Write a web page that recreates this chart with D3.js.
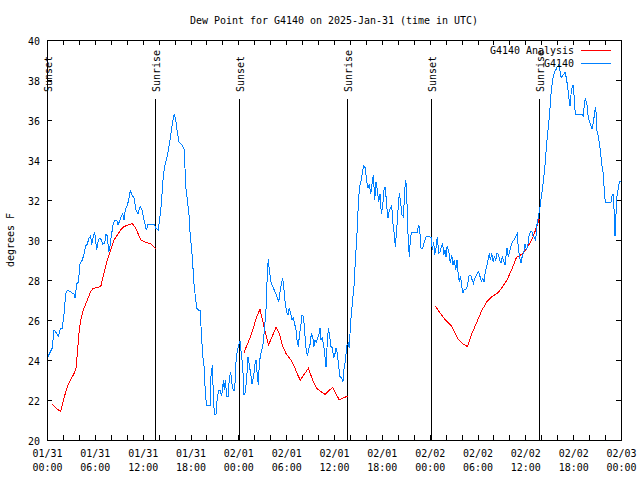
<!DOCTYPE html>
<html><head><meta charset="utf-8">
<script src="https://cdn.jsdelivr.net/npm/d3@7"></script>
<style>
html,body{margin:0;padding:0;background:#fff;}
svg{display:block;}
text{font-family:"DejaVu Sans Mono","Liberation Mono",monospace;font-size:11px;fill:#000;}
</style></head>
<body>
<svg id="chart" width="640" height="480"></svg>
<script>
// ---------- DATA ----------
const titleText = "Dew Point for G4140 on 2025-Jan-31 (time in UTC)";
const yLabelText = "degrees F";
const startUTC = Date.UTC(2025, 0, 31, 0, 0);
const endUTC = Date.UTC(2025, 1, 3, 0, 0);
const yTickValues = [20, 22, 24, 26, 28, 30, 32, 34, 36, 38, 40];
const seriesNames = ["G4140 Analysis", "G4140"];
const seriesColors = ["#ff0000", "#0080ff"];

// hours after 01/31 00:00 UTC
const sunEventHours = [0.05, 13.55, 24.09, 37.63, 48.17, 61.72];
const sunEventNames = ["Sunset", "Sunrise", "Sunset", "Sunrise", "Sunset", "Sunrise"];

// Observed station series (G4140)
const blueHours = [0.13,0.66,0.88,1.09,1.42,1.72,1.92,2.13,2.35,2.55,2.97,3.39,3.51,3.73,3.93,4.14,4.43,4.64,4.85,5.06,5.27,5.48,5.61,5.81,5.98,6.23,6.44,6.65,6.81,6.99,7.24,7.40,7.56,7.74,7.90,8.07,8.28,8.49,8.74,8.91,9.16,9.32,9.50,9.66,9.82,10.07,10.25,10.45,10.66,10.91,11.16,11.42,11.67,11.92,12.17,12.46,12.67,13.01,13.42,13.67,13.96,14.17,14.34,14.59,14.80,15.02,15.22,15.43,15.64,15.84,15.97,16.18,16.34,16.56,16.81,17.02,17.22,17.40,17.60,17.81,17.94,18.15,18.28,18.44,18.60,18.78,18.98,19.23,19.36,19.53,19.73,19.86,20.03,20.45,20.57,20.74,20.86,20.99,21.20,21.36,21.54,21.74,21.86,21.99,22.12,22.24,22.37,22.54,22.74,22.87,23.04,23.21,23.37,23.55,23.67,23.80,24.00,24.21,24.37,24.55,24.71,24.88,25.05,25.21,25.38,25.55,25.72,25.93,26.05,26.22,26.38,26.51,26.63,26.81,27.06,27.22,27.47,27.56,27.69,27.76,27.89,28.10,28.31,28.51,28.73,28.89,29.06,29.23,29.44,29.57,29.73,29.89,30.07,30.23,30.39,30.57,30.73,30.90,31.07,31.23,31.36,31.52,31.65,31.82,31.99,32.15,32.28,32.40,32.53,32.70,32.87,33.03,33.15,33.33,33.49,33.62,33.78,33.96,34.12,34.25,34.37,34.53,34.71,34.87,35.00,35.12,35.29,35.46,35.62,35.79,35.96,36.13,36.25,36.42,36.59,36.75,36.97,37.13,37.26,37.38,37.51,37.63,37.79,37.92,38.05,38.22,38.38,38.55,38.67,38.85,38.97,39.10,39.26,39.43,39.60,39.76,39.93,40.10,40.27,40.43,40.61,40.77,40.93,41.11,41.27,41.43,41.61,41.77,41.94,42.11,42.27,42.44,42.61,42.78,42.94,43.11,43.24,43.37,43.53,43.69,43.86,44.03,44.19,44.37,44.53,44.70,44.82,44.95,45.07,45.20,45.32,45.45,45.57,45.70,46.00,46.41,46.63,46.75,46.92,47.13,47.33,47.54,47.76,47.96,48.17,48.33,48.51,48.63,48.80,48.96,49.14,49.30,49.46,49.64,49.76,49.92,50.05,50.18,50.34,50.47,50.59,50.77,50.93,51.09,51.27,51.43,51.59,51.72,51.84,51.97,52.14,52.31,52.47,52.65,52.81,52.97,53.15,53.31,53.48,53.65,53.81,53.98,54.15,54.32,54.48,54.66,54.82,54.98,55.16,55.32,55.49,55.61,55.79,55.95,56.11,56.29,56.45,56.61,56.79,56.95,57.11,57.29,57.45,57.58,57.70,57.86,58.04,58.21,58.42,58.62,58.83,59.00,59.12,59.30,59.46,59.62,59.80,59.96,60.12,60.30,60.46,60.63,60.80,60.96,61.13,61.30,61.43,61.55,61.68,61.80,61.93,62.09,62.26,62.43,62.59,62.76,62.93,63.10,63.26,63.44,63.64,63.85,64.01,64.14,64.31,64.48,64.64,64.82,64.98,65.14,65.32,65.48,65.61,65.73,65.90,66.02,66.15,66.27,66.70,67.11,67.28,67.41,67.53,67.71,67.87,68.03,68.21,68.37,68.54,68.71,68.84,68.96,69.12,69.29,69.46,69.62,69.79,69.91,70.04,70.34,70.75,70.88,71.00,71.13,71.25,71.34,71.46,71.63,71.79,71.92];
const blueValues = [24.17,24.6,25.5,25.4,25.2,25.6,25.6,26.3,27.3,27.5,27.4,27.3,27.1,27.8,27.9,28.8,29.0,29.3,29.7,29.8,30.1,30.2,29.75,30.2,30.4,29.5,30.0,30.1,30.0,29.8,29.85,30.3,30.2,29.4,29.7,30.2,30.75,31.0,31.0,30.75,31.0,31.2,31.3,31.0,31.5,31.75,32.0,32.47,32.25,32.1,31.5,31.3,31.67,31.5,31.0,30.5,30.8,30.8,30.8,30.58,30.5,31.2,31.8,33.2,33.75,34.1,34.5,35.0,35.6,36.1,36.3,35.9,35.4,34.9,34.8,34.7,34.5,32.7,32.0,31.25,30.4,29.5,28.8,27.8,27.2,26.6,26.5,26.5,25.3,24.25,23.6,22.3,21.75,21.75,23.2,23.75,22.3,21.3,21.3,22.1,22.5,22.5,22.25,22.4,23.0,22.5,23.0,22.2,22.2,23.1,23.4,22.8,22.5,22.5,23.75,24.3,24.67,24.97,24.3,23.67,22.25,22.4,23.1,24.17,23.75,23.3,22.8,23.2,23.75,24.0,23.2,22.75,23.85,24.3,24.67,25.3,26.5,27.6,28.67,29.03,28.5,27.9,27.67,27.5,27.3,27.1,26.9,27.4,27.9,28.1,27.5,26.8,26.4,26.25,26.6,26.3,26.0,26.1,25.8,25.5,25.0,24.67,25.17,25.67,26.25,26.2,25.67,25.0,24.4,24.25,24.6,24.83,25.3,25.17,24.67,25.0,24.9,25.1,25.3,25.6,25.0,25.1,24.75,24.17,23.67,24.6,25.6,25.17,24.67,24.6,24.1,24.33,24.6,24.33,23.67,23.17,23.1,22.92,23.58,23.83,24.33,24.75,24.83,24.6,25.67,26.5,27.17,27.83,29.0,30.0,31.08,32.17,32.75,33.0,33.5,33.72,33.6,32.9,32.6,32.8,32.3,32.8,33.25,32.0,32.9,32.5,31.9,32.3,31.3,31.7,32.5,32.67,31.67,31.08,31.5,31.6,31.75,30.9,30.42,29.67,30.5,31.5,32.33,31.83,31.25,31.17,32.0,33.0,32.75,31.33,29.83,29.17,30.0,30.37,30.37,30.37,30.75,30.5,29.58,29.58,29.9,30.17,30.2,30.17,30.13,29.5,29.9,29.25,29.6,30.17,29.33,29.4,29.67,29.83,29.25,29.5,29.17,29.67,29.5,29.25,28.83,29.25,28.75,29.0,28.5,29.0,28.25,27.92,28.17,27.92,27.33,27.5,27.53,27.58,27.92,28.25,28.25,28.03,27.83,28.08,28.2,28.33,28.42,28.17,27.92,28.08,27.92,28.42,28.67,29.0,29.33,29.0,29.33,28.92,29.17,29.0,29.33,29.3,29.0,28.83,29.17,28.92,28.75,29.2,29.58,29.17,29.42,29.73,29.95,30.03,30.2,30.33,29.53,29.12,28.87,29.2,29.37,29.78,29.53,29.7,30.2,30.4,30.45,30.2,30.12,29.95,30.7,30.95,31.28,31.5,31.95,32.37,32.95,33.53,34.37,35.2,35.78,36.62,37.53,38.03,38.37,38.53,38.67,38.73,38.53,38.12,38.2,38.28,38.37,38.12,37.62,37.03,36.7,37.28,37.7,37.73,37.03,36.28,36.28,36.28,36.2,36.87,37.03,36.87,36.2,35.95,35.73,35.57,35.87,36.45,36.62,35.53,35.23,34.87,34.28,33.7,33.28,32.37,31.9,31.9,31.9,32.2,32.28,31.53,30.2,31.0,32.1,32.53,32.87,32.95];

// Analysis series (G4140 Analysis); null marks a gap
const redHours = [0.66,1.09,1.72,2.13,2.55,2.97,3.39,3.64,3.80,4.01,4.23,4.43,4.64,5.06,5.48,5.77,6.31,6.74,7.15,7.56,7.99,8.40,8.82,9.25,9.66,10.16,10.70,11.13,11.79,12.38,13.01,13.74,
  null,
  24.71,25.68,26.31,26.72,27.22,27.79,28.73,29.14,29.57,29.98,30.61,31.02,31.36,31.77,32.78,33.33,33.83,34.37,34.87,35.81,36.67,37.69,
  null,
  48.69,49.34,49.96,50.80,51.22,51.64,52.27,52.74,53.31,53.94,54.57,55.19,55.57,55.82,56.60,57.16,57.70,58.27,58.89,59.50,60.12,60.80,61.21,61.75];
const redValues = [21.78,21.6,21.42,22.1,22.67,23.0,23.33,23.6,24.3,25.33,26.0,26.33,26.58,27.0,27.42,27.58,27.62,27.67,28.33,29.0,29.5,30.0,30.25,30.5,30.67,30.75,30.83,30.58,30.0,29.88,29.8,29.53,
  null,
  24.37,25.33,26.17,26.53,25.67,24.75,25.63,25.33,24.67,24.33,24.0,23.67,23.33,23.0,23.58,23.0,22.58,22.42,22.28,22.63,22.0,22.2,
  null,
  26.7,26.33,26.0,25.67,25.33,25.0,24.78,24.67,25.33,25.92,26.5,26.92,27.08,27.17,27.37,27.67,28.0,28.5,29.13,29.27,29.55,30.0,30.42,31.07];

// ---------- CHART ----------
const svg = d3.select("#chart");
const L = 47, R = 621, T = 40, B = 440;
const H = 3600 * 1000;
const toDate = h => new Date(startUTC + h * H);

const x = d3.scaleUtc().domain([new Date(startUTC), new Date(endUTC)]).range([L, R]);
const y = d3.scaleLinear().domain([20, 40]).range([B, T]);

const CW = 6; // char advance
function fit(sel, s) {
  return sel.text(s).attr("textLength", s.length * CW).attr("lengthAdjust", "spacingAndGlyphs");
}

// title
fit(svg.append("text").attr("x", (L + R) / 2).attr("y", 24).attr("text-anchor", "middle"), titleText);

// y label
fit(svg.append("text").attr("transform", "translate(14,240) rotate(-90)").attr("text-anchor", "middle"), yLabelText);

// axes (ticks inward)
const majorTicks = d3.utcHour.range(new Date(startUTC), new Date(endUTC + 1), 6);
const minorTicks = d3.utcHour.range(new Date(startUTC), new Date(endUTC + 1), 2);

function cleanAxis(g) { g.select(".domain").remove(); g.selectAll("line").attr("stroke", "#000").attr("shape-rendering", "crispEdges"); }

svg.append("g").attr("transform", `translate(0,${B})`)
  .call(d3.axisBottom(x).tickValues(minorTicks).tickSize(-5).tickFormat(""))
  .call(cleanAxis).selectAll("text").remove();
svg.append("g").attr("transform", `translate(0,${T})`)
  .call(d3.axisTop(x).tickValues(minorTicks).tickSize(-5).tickFormat(""))
  .call(cleanAxis).selectAll("text").remove();

const fmtD = d3.utcFormat("%m/%d"), fmtT = d3.utcFormat("%H:%M");
const xLab = svg.append("g").attr("transform", `translate(0,${B})`)
  .call(d3.axisBottom(x).tickValues(majorTicks).tickSize(-5).tickFormat(""))
  .call(cleanAxis);
xLab.selectAll("text").remove();
xLab.selectAll(".tick").each(function(d) {
  const g = d3.select(this);
  fit(g.append("text").attr("x", 0).attr("y", 17).attr("text-anchor", "middle"), fmtD(d));
  fit(g.append("text").attr("x", 0).attr("y", 31).attr("text-anchor", "middle"), fmtT(d));
});

const yAx = svg.append("g").attr("transform", `translate(${L},0)`)
  .call(d3.axisLeft(y).tickValues(yTickValues).tickSize(-5).tickFormat(""))
  .call(cleanAxis);
yAx.selectAll("text").remove();
yAx.selectAll(".tick").each(function(d) {
  fit(d3.select(this).append("text").attr("x", -7).attr("y", 4).attr("text-anchor", "end"), String(d));
});
svg.append("g").attr("transform", `translate(${R},0)`)
  .call(d3.axisRight(y).tickValues(yTickValues).tickSize(-5).tickFormat(""))
  .call(cleanAxis).selectAll("text").remove();

// frame
svg.append("rect").attr("x", L + 0.5).attr("y", T + 0.5).attr("width", R - L).attr("height", B - T)
  .attr("fill", "none").attr("stroke", "#000").attr("shape-rendering", "crispEdges");

// sun event lines
sunEventHours.forEach((h, i) => {
  const xx = Math.round(x(toDate(h))) + 0.5;
  svg.append("line").attr("x1", xx).attr("x2", xx).attr("y1", 99).attr("y2", B)
    .attr("stroke", "#000").attr("shape-rendering", "crispEdges");
  fit(svg.append("text").attr("transform", `translate(${xx + 4},92) rotate(-90)`).attr("text-anchor", "start"), sunEventNames[i]);
});

// series
const redData = redHours.map((h, i) => ({h, v: redValues[i]}));
const blueData = blueHours.map((h, i) => ({h, v: blueValues[i]}));
const line = d3.line().defined(d => d.h !== null && d.v !== null)
  .x(d => x(toDate(d.h))).y(d => y(d.v));

svg.append("path").datum(redData).attr("d", line).attr("fill", "none")
  .attr("stroke", seriesColors[0]).attr("stroke-width", 1).attr("shape-rendering", "crispEdges");
svg.append("path").datum(blueData).attr("d", line).attr("fill", "none")
  .attr("stroke", seriesColors[1]).attr("stroke-width", 1).attr("shape-rendering", "crispEdges");

// legend
seriesNames.forEach((name, i) => {
  const yy = 50 + i * 13;
  fit(svg.append("text").attr("x", 574).attr("y", yy + 4).attr("text-anchor", "end"), name);
  svg.append("line").attr("x1", 581).attr("x2", 611).attr("y1", yy + 0.5).attr("y2", yy + 0.5)
    .attr("stroke", seriesColors[i]).attr("shape-rendering", "crispEdges");
});
</script>
</body></html>
